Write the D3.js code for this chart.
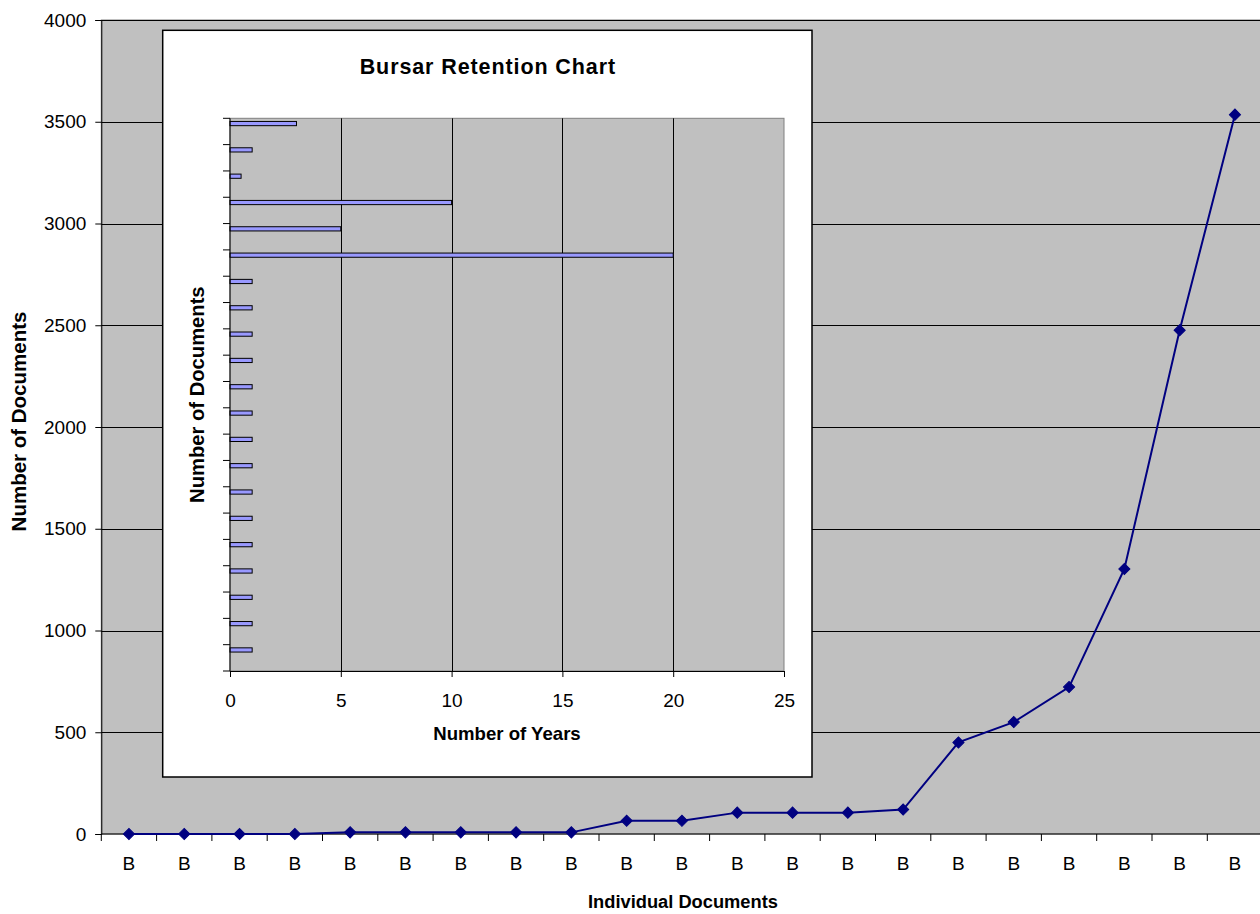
<!DOCTYPE html>
<html>
<head>
<meta charset="utf-8">
<script src="https://cdn.jsdelivr.net/npm/d3@7"></script>
<style>
  html, body { margin: 0; padding: 0; background: #fff; }
  svg { display: block; font-family: "Liberation Sans", Arial, sans-serif; }
</style>
</head>
<body>
<svg id="chart" width="1260" height="914"></svg>
<script>
// Individual documents (category labels) and the cumulative number of documents
const docLabels = ["B","B","B","B","B","B","B","B","B","B","B","B","B","B","B","B","B","B","B","B","B"];
const docCounts = [0, 0, 0, 0, 8, 8, 8, 8, 8, 65, 65, 105, 105, 105, 120, 450, 550, 722, 1302, 2475, 3535];
const countTicks = [0, 500, 1000, 1500, 2000, 2500, 3000, 3500, 4000];

// Inset: retention period (years) per document group, listed top to bottom
const retentionGroups = d3.range(1, 22).map(String);
const retentionYears = [3, 1, 0.5, 10, 5, 20, 1, 1, 1, 1, 1, 1, 1, 1, 1, 1, 1, 1, 1, 1, 1];
const yearTicks = [0, 5, 10, 15, 20, 25];

const svg = d3.select("#chart");
const plotGrey = "#c0c0c0";
const navy = "#000080";

// ---------- main line chart ----------
const main = { left: 101.3, right: 1262.6, top: 20, bottom: 834 };

const x = d3.scaleBand()
  .domain(d3.range(docLabels.length))
  .range([main.left, main.right]);

const y = d3.scaleLinear()
  .domain([0, 4000])
  .range([main.bottom, main.top]);

svg.append("rect")
  .attr("x", main.left).attr("y", main.top)
  .attr("width", main.right - main.left).attr("height", main.bottom - main.top)
  .attr("fill", plotGrey).attr("stroke", "#808080").attr("stroke-width", 1);

// horizontal gridlines
svg.append("g")
  .selectAll("line")
  .data(countTicks.filter(d => d > 0))
  .join("line")
  .attr("x1", main.left).attr("x2", main.right)
  .attr("y1", d => Math.round(y(d)) + 0.5).attr("y2", d => Math.round(y(d)) + 0.5)
  .attr("stroke", "#000").attr("stroke-width", 1);

// y axis
const yAxis = svg.append("g")
  .attr("transform", `translate(${main.left},0)`)
  .call(d3.axisLeft(y).tickValues(countTicks).tickSize(6).tickPadding(9).tickFormat(d3.format("d")));
yAxis.select(".domain").attr("stroke", "#000");
yAxis.selectAll(".tick line").attr("stroke", "#000");
yAxis.selectAll("text").attr("font-size", 19).attr("fill", "#000")
  .attr("font-family", "Liberation Sans, Arial, sans-serif");

// x axis: ticks at category boundaries
const xAxisG = svg.append("g").attr("transform", `translate(0,${main.bottom})`);
xAxisG.append("line")
  .attr("x1", main.left).attr("x2", main.right)
  .attr("y1", 0).attr("y2", 0).attr("stroke", "#000");
xAxisG.selectAll("line.tick")
  .data(d3.range(docLabels.length + 1))
  .join("line").attr("class", "tick")
  .attr("x1", i => main.left + i * x.step()).attr("x2", i => main.left + i * x.step())
  .attr("y1", 0).attr("y2", 7).attr("stroke", "#000");
xAxisG.selectAll("text")
  .data(docLabels)
  .join("text")
  .attr("x", (d, i) => x(i) + x.bandwidth() / 2)
  .attr("y", 36)
  .attr("text-anchor", "middle")
  .attr("font-size", 19)
  .text(d => d);

// series line and diamond markers
const line = d3.line()
  .x((d, i) => x(i) + x.bandwidth() / 2)
  .y(d => y(d));

svg.append("path")
  .datum(docCounts)
  .attr("d", line)
  .attr("fill", "none")
  .attr("stroke", navy)
  .attr("stroke-width", 2);

const diamond = d3.symbol().type(d3.symbolSquare).size(62);
svg.append("g")
  .selectAll("path")
  .data(docCounts)
  .join("path")
  .attr("d", diamond)
  .attr("transform", (d, i) => `translate(${x(i) + x.bandwidth() / 2},${y(d)}) rotate(45)`)
  .attr("fill", navy)
  .attr("stroke", navy)
  .attr("stroke-width", 1);

// axis titles
svg.append("text")
  .attr("transform", `translate(26,421.5) rotate(-90)`)
  .attr("text-anchor", "middle")
  .attr("font-size", 20.5)
  .attr("font-weight", "bold")
  .text("Number of Documents");

svg.append("text")
  .attr("x", 683).attr("y", 908)
  .attr("text-anchor", "middle")
  .attr("font-size", 18.3)
  .attr("font-weight", "bold")
  .text("Individual Documents");

// ---------- inset bar chart ----------
const inset = { left: 162.7, top: 30.3, right: 812, bottom: 777 };
svg.append("rect")
  .attr("x", inset.left).attr("y", inset.top)
  .attr("width", inset.right - inset.left).attr("height", inset.bottom - inset.top)
  .attr("fill", "#fff").attr("stroke", "#000").attr("stroke-width", 1.5);

const ip = { left: 230, right: 784, top: 118.3, bottom: 671 };

const bx = d3.scaleLinear().domain([0, 25]).range([ip.left, ip.right]);
const by = d3.scaleBand().domain(retentionGroups).range([ip.top, ip.bottom]);

svg.append("rect")
  .attr("x", ip.left).attr("y", ip.top)
  .attr("width", ip.right - ip.left).attr("height", ip.bottom - ip.top)
  .attr("fill", plotGrey).attr("stroke", "#808080").attr("stroke-width", 1);

// vertical gridlines
svg.append("g")
  .selectAll("line")
  .data(yearTicks.filter(d => d > 0 && d < 25))
  .join("line")
  .attr("x1", d => Math.round(bx(d)) + 0.5).attr("x2", d => Math.round(bx(d)) + 0.5)
  .attr("y1", ip.top).attr("y2", ip.bottom)
  .attr("stroke", "#000");

// bars
svg.append("g")
  .selectAll("rect")
  .data(retentionYears)
  .join("rect")
  .attr("x", bx(0))
  .attr("y", (d, i) => by(retentionGroups[i]) + by.bandwidth() * 0.12)
  .attr("width", d => bx(d) - bx(0))
  .attr("height", by.bandwidth() * 0.16)
  .attr("fill", "#9999ff")
  .attr("stroke", "#000")
  .attr("stroke-width", 1);

// inset category axis (ticks only)
const iy = svg.append("g").attr("transform", `translate(${ip.left},0)`);
iy.append("line").attr("x1", 0).attr("x2", 0).attr("y1", ip.top).attr("y2", ip.bottom).attr("stroke", "#000");
iy.selectAll("line.tick")
  .data(d3.range(retentionGroups.length + 1))
  .join("line").attr("class", "tick")
  .attr("x1", -7).attr("x2", 0)
  .attr("y1", i => ip.top + i * by.step()).attr("y2", i => ip.top + i * by.step())
  .attr("stroke", "#000");

// inset value axis
const ix = svg.append("g")
  .attr("transform", `translate(0,${ip.bottom})`)
  .call(d3.axisBottom(bx).tickValues(yearTicks).tickSize(6).tickPadding(17));
ix.select(".domain").attr("stroke", "#000");
ix.selectAll(".tick line").attr("stroke", "#000");
ix.selectAll("text").attr("font-size", 19).attr("fill", "#000")
  .attr("font-family", "Liberation Sans, Arial, sans-serif");

svg.append("text")
  .attr("x", (inset.left + inset.right) / 2 + 0.5).attr("y", 74)
  .attr("text-anchor", "middle")
  .attr("font-size", 21.5)
  .attr("font-weight", "bold")
  .attr("letter-spacing", 0.9)
  .text("Bursar Retention Chart");

svg.append("text")
  .attr("transform", `translate(204,${(ip.top + ip.bottom) / 2}) rotate(-90)`)
  .attr("text-anchor", "middle")
  .attr("font-size", 20.2)
  .attr("font-weight", "bold")
  .text("Number of Documents");

svg.append("text")
  .attr("x", (ip.left + ip.right) / 2).attr("y", 740)
  .attr("text-anchor", "middle")
  .attr("font-size", 18.6)
  .attr("font-weight", "bold")
  .text("Number of Years");
</script>
</body>
</html>
